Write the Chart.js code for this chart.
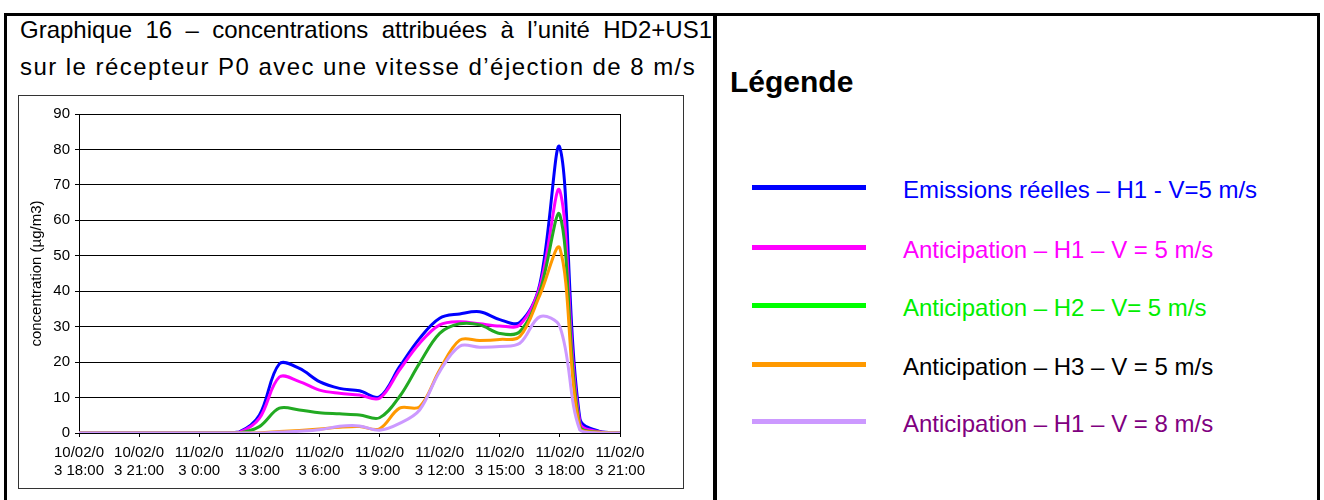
<!DOCTYPE html>
<html>
<head>
<meta charset="utf-8">
<script src="https://cdn.jsdelivr.net/npm/chart.js@4.4.0/dist/chart.umd.min.js"></script>
<style>
  body { margin: 0; background: #fff; font-family: 'Liberation Sans', Arial, sans-serif; }
  #page { position: relative; width: 1324px; height: 500px; overflow: hidden; }
  #frame { position: absolute; left: 4px; top: 13px; width: 1310px; height: 520px; border: 3px solid #000; }
  #divider { position: absolute; left: 713px; top: 13px; width: 4px; height: 500px; background: #000; }
  .title { position: absolute; left: 20px; width: 692px; font-size: 24px; line-height: 28px; color: #000; white-space: nowrap; }
  #t1 { top: 16px; text-align: justify; text-align-last: justify; white-space: normal; }
  #t2 { top: 53px; letter-spacing: 1.45px; }
  #chartBox { position: absolute; left: 18px; top: 95px; width: 664px; height: 392px; border: 1px solid #333; }
  #chart { position: absolute; left: 18px; top: 95px; }
  #legTitle { position: absolute; left: 730px; top: 64px; font-size: 30px; font-weight: bold; line-height: 36px; }
  .swatch { position: absolute; left: 752px; width: 114px; height: 5px; }
  .legText { position: absolute; left: 903px; font-size: 24px; line-height: 28px; white-space: nowrap; }
</style>
</head>
<body>
<div id="page">
  <div id="frame"></div>
  <div id="divider"></div>
  <div class="title" id="t1">Graphique 16 – concentrations attribuées à l’unité HD2+US1</div>
  <div class="title" id="t2">sur le récepteur P0 avec une vitesse d’éjection de 8 m/s</div>
  <div id="chartBox"></div>
  <canvas id="chart" width="665" height="393"></canvas>
  <div id="legTitle">Légende</div>
  <div id="legend"></div>
</div>
<script>
// hours since 10/02/03 18:00
const hours = [0,1,2,3,4,5,6,7,8,9,10,11,12,13,14,15,16,17,18,19,20,21,22,23,24,25,26,27];

const tickLabels = [
  ['10/02/0', '3 18:00'], ['10/02/0', '3 21:00'], ['11/02/0', '3 0:00'], ['11/02/0', '3 3:00'],
  ['11/02/0', '3 6:00'], ['11/02/0', '3 9:00'], ['11/02/0', '3 12:00'], ['11/02/0', '3 15:00'],
  ['11/02/0', '3 18:00'], ['11/02/0', '3 21:00']
];

const seriesNames = [
  'Emissions réelles – H1 - V=5 m/s',
  'Anticipation – H1 – V = 5 m/s',
  'Anticipation – H2 – V= 5 m/s',
  'Anticipation – H3 – V = 5 m/s',
  'Anticipation – H1 – V = 8 m/s'
];

const emissionsH1V5 = [0,0,0,0,0,0,0,0,0.3,5,19.5,18.2,14.5,12.6,11.9,10.2,18.7,26.7,32.4,33.6,34.2,32,31.2,42,80.5,4,0.4,0];
const anticipH1V5   = [0,0,0,0,0,0,0,0,0.2,4.1,15.8,14.5,12.1,11.2,10.7,9.8,17.8,25.3,30.5,31.4,30.8,30.2,30.5,41.3,68.3,2.8,0.3,0];
const anticipH2V5   = [0,0,0,0,0,0,0,0,0,1.8,7,6.5,5.7,5.4,5.1,4.3,10.3,19.7,28.1,30.8,30.5,28.1,28.6,39.9,61.5,1.8,0.2,0];
const anticipH3V5   = [0,0,0,0,0,0,0,0,0,0.1,0.4,0.7,1.1,1.6,1.8,1.2,7,7.4,17.8,26.2,26.1,26.4,27.2,38.9,52.1,1.3,0.2,0];
const anticipH1V8   = [0,0,0,0,0,0,0,0,0,0,0.3,0.5,0.9,1.9,2,0.8,2.7,6.5,17.3,24.5,24.2,24.4,25.3,32.8,30,0.8,0,0];

const lineColors = ['#0000ff', '#ff00ff', '#22aa22', '#ff9900', '#cc99ff'];
const swatchColors = ['#0000ff', '#ff00ff', '#00ff00', '#ff9900', '#cc99ff'];
const textColors = ['#0000ff', '#ff00ff', '#00ee00', '#000000', '#800080'];
const legendRows = [187, 247, 305, 364, 421];

const allSeries = [emissionsH1V5, anticipH1V5, anticipH2V5, anticipH3V5, anticipH1V8];

// legend on the right panel
const legend = document.getElementById('legend');
seriesNames.forEach((name, i) => {
    const sw = document.createElement('div');
    sw.className = 'swatch';
    sw.style.top = (legendRows[i] - 2.5) + 'px';
    sw.style.background = swatchColors[i];
    legend.appendChild(sw);
    const tx = document.createElement('div');
    tx.className = 'legText';
    tx.style.top = (legendRows[i] - 11) + 'px';
    tx.style.color = textColors[i];
    tx.textContent = name;
    legend.appendChild(tx);
});

Chart.defaults.font.family = "'Liberation Sans', Arial, sans-serif";
Chart.defaults.color = '#000';

// thin frame round the plot area
const plotFrame = {
    id: 'plotFrame',
    beforeDatasetsDraw(chart) {
        const a = chart.chartArea;
        const ctx = chart.ctx;
        ctx.save();
        ctx.strokeStyle = '#000';
        ctx.lineWidth = 1;
        ctx.strokeRect(Math.round(a.left) + 0.5, Math.round(a.top) + 0.5, Math.round(a.right - a.left), Math.round(a.bottom - a.top));
        ctx.restore();
    }
};

const ctx = document.getElementById('chart').getContext('2d');
const chart = new Chart(ctx, {
    type: 'line',
    data: {
        datasets: allSeries.map((values, i) => ({
            label: seriesNames[i],
            data: hours.map((h, j) => ({ x: h, y: values[j] })),
            borderColor: lineColors[i],
            borderWidth: 3,
            pointRadius: 0,
            tension: 0.35,
            fill: false,
            order: 4 - i
        }))
    },
    options: {
        responsive: false,
        animation: false,
        layout: { padding: { left: 0, top: 19, right: 63, bottom: 0 } },
        plugins: {
            legend: { display: false },
            tooltip: { enabled: false }
        },
        scales: {
            x: {
                type: 'linear',
                min: 0,
                max: 27,
                afterFit: scale => { scale.height = 55; },
                ticks: {
                    stepSize: 3,
                    autoSkip: false,
                    maxRotation: 0,
                    padding: 7,
                    font: { size: 15 },
                    callback: v => tickLabels[v / 3]
                },
                grid: { drawOnChartArea: false, tickLength: 4, color: '#000' },
                border: { color: '#000' }
            },
            y: {
                min: 0,
                max: 90,
                afterFit: scale => { scale.width = 61; },
                ticks: { stepSize: 10, padding: 5, font: { size: 15 } },
                grid: { color: '#000', tickLength: 4 },
                border: { color: '#000' },
                title: {
                    display: true,
                    text: 'concentration (µg/m3)',
                    font: { size: 15 },
                    padding: { top: 10, bottom: 0 }
                }
            }
        }
    },
    plugins: [plotFrame]
});
</script>
</body>
</html>
